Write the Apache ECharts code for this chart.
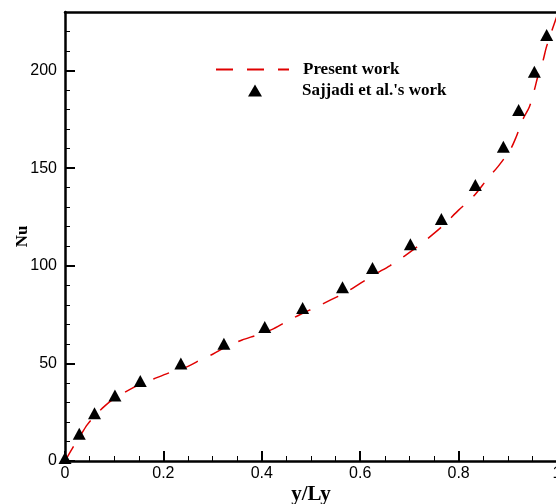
<!DOCTYPE html>
<html>
<head>
<meta charset="utf-8">
<script src="https://cdn.jsdelivr.net/npm/echarts@6/dist/echarts.min.js"></script>
<style>html,body{margin:0;padding:0;background:#fff;}#c{width:556px;height:504px;}</style>
</head>
<body>
<div id="c"></div>
<script>
// Present work (dashed red line): y/Ly and Nu
const lineX = [0, 0.015, 0.03, 0.045, 0.06, 0.08, 0.1, 0.12, 0.15, 0.18, 0.21, 0.25, 0.28, 0.30, 0.33, 0.36, 0.39, 0.42, 0.45, 0.48, 0.51, 0.54, 0.57, 0.60, 0.63, 0.66, 0.69, 0.72, 0.75, 0.77, 0.80, 0.83, 0.86, 0.88, 0.905, 0.917, 0.93, 0.944, 0.955, 0.961, 0.971, 0.978, 0.985, 0.993, 1.0];
const lineY = [0, 6.5, 12.5, 18.5, 23, 28, 32, 35, 39, 42, 45, 48.5, 52.5, 54.7, 58.8, 62, 64.5, 67.3, 71.4, 75.3, 78.8, 82.5, 86.3, 91, 95.7, 100, 105, 110.5, 116.6, 121, 128.5, 135.5, 145, 150.8, 159.5, 166, 174.7, 181.5, 191, 197, 204.5, 211.6, 217, 223, 228];
// Sajjadi et al.'s work (triangles)
const refX = [0, 0.029, 0.060, 0.1015, 0.153, 0.2355, 0.323, 0.406, 0.483, 0.564, 0.625, 0.702, 0.765, 0.834, 0.891, 0.922, 0.954, 0.979];
const refY = [1.5, 13.9, 24.4, 33.5, 41, 50, 60, 68.6, 78.4, 89, 98.9, 111, 124, 141.4, 161, 179.8, 199.4, 218.2];
const xMajorTicks = [0, 0.2, 0.4, 0.6, 0.8, 1];
const yMajorTicks = [0, 50, 100, 150, 200];
const seriesNames = ['Present work', "Sajjadi et al.'s work"];

const serif = 'Liberation Serif, Times New Roman, serif';
const sans = 'Liberation Sans, Arial, sans-serif';
const chart = echarts.init(document.getElementById('c'), null, {renderer: 'canvas'});
const legendText = {fontFamily: serif, fontWeight: 'bold', fontSize: 17, color: '#000'};
const option = {
  animation: false,
  backgroundColor: '#fff',
  grid: {left: 65, top: 12, width: 492, height: 449, containLabel: false, outerBoundsMode: 'none'},
  legend: [
    {orient: 'vertical', left: 210, top: 56, itemWidth: 73, itemHeight: 14,
     data: [{name: seriesNames[0], itemStyle: {opacity: 0}}],
     textStyle: Object.assign({padding: [0, 0, 0, 9]}, legendText)},
    {orient: 'vertical', left: 243, top: 77, itemWidth: 14, itemHeight: 12,
     data: [{name: seriesNames[1], icon: 'triangle'}],
     textStyle: Object.assign({padding: [0, 0, 0, 35]}, legendText)}
  ],
  xAxis: [
    {type: 'value', min: 0, max: 1, interval: 0.05, position: 'bottom',
     axisLine: {show: true, onZero: false, lineStyle: {color: '#000', width: 2.5}},
     axisTick: {show: true, inside: true, length: 5, lineStyle: {color: '#000', width: 1}},
     axisLabel: {show: false}, splitLine: {show: false}},
    {type: 'value', min: 0, max: 1, interval: 0.2, position: 'bottom',
     name: 'y/Ly', nameLocation: 'middle', nameGap: 23, nameMoveOverlap: false,
     nameTextStyle: {fontFamily: serif, fontWeight: 'bold', fontSize: 21, color: '#000'},
     axisLine: {show: false, onZero: false},
     axisTick: {show: true, inside: true, length: 10, customValues: xMajorTicks, lineStyle: {color: '#000', width: 2}},
     axisLabel: {show: true, margin: 5, customValues: xMajorTicks, fontFamily: sans, fontSize: 16, color: '#000',
                 formatter: v => String(Math.round(v * 10) / 10)},
     splitLine: {show: false}},
    {type: 'value', min: 0, max: 1, position: 'top',
     axisLine: {show: true, onZero: false, lineStyle: {color: '#000', width: 2.5}},
     axisTick: {show: false}, axisLabel: {show: false}, splitLine: {show: false}}
  ],
  yAxis: [
    {type: 'value', min: 0, max: 230, interval: 10, position: 'left',
     axisLine: {show: true, onZero: false, lineStyle: {color: '#000', width: 2.5}},
     axisTick: {show: true, inside: true, length: 5, lineStyle: {color: '#000', width: 1}},
     axisLabel: {show: false}, splitLine: {show: false}},
    {type: 'value', min: 0, max: 230, interval: 50, position: 'left',
     name: 'Nu', nameLocation: 'middle', nameGap: 34, nameRotate: 90, nameMoveOverlap: false,
     nameTextStyle: {fontFamily: serif, fontWeight: 'bold', fontSize: 17, color: '#000'},
     axisLine: {show: false, onZero: false},
     axisTick: {show: true, inside: true, length: 10, customValues: yMajorTicks, lineStyle: {color: '#000', width: 2}},
     axisLabel: {show: true, margin: 8, customValues: yMajorTicks, fontFamily: sans, fontSize: 16, color: '#000'},
     splitLine: {show: false}}
  ],
  series: [
    {name: seriesNames[0], type: 'line', xAxisIndex: 0, yAxisIndex: 0,
     data: lineX.map((x, i) => [x, lineY[i]]), symbol: 'none', smooth: 0.3,
     color: '#e00000',
     lineStyle: {color: '#e00000', width: 1.5, type: [17, 14]}, z: 2},
    {name: seriesNames[1], type: 'scatter', xAxisIndex: 0, yAxisIndex: 0,
     data: refX.map((x, i) => [x, refY[i]]), symbol: 'triangle', symbolSize: [13, 12],
     itemStyle: {color: '#000', opacity: 1}, z: 3}
  ]
};
chart.setOption(option);
</script>
</body>
</html>
